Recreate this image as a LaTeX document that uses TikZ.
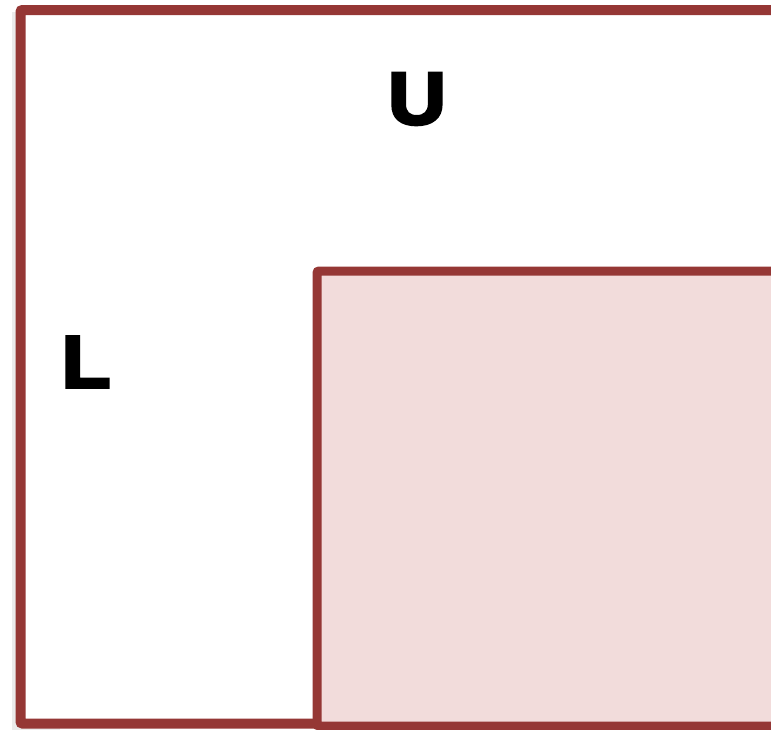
\documentclass[tikz,border=0pt]{standalone}
\usepackage{fontspec}
\usepackage{tikz}
\usetikzlibrary{positioning}
\newfontfamily\labelfont[FakeBold=4]{Liberation Sans Bold}
\definecolor{FrameRed}{RGB}{149,55,53}
\definecolor{PaleRed}{RGB}{242,220,219}
\tikzset{
	frame/.style={line width=10pt, FrameRed, rounded corners=2pt},
	region/.style={font=\labelfont\fontsize{74}{74}\selectfont, inner sep=0pt, xscale=1.08}
}
\begin{document}
\begin{tikzpicture}[x=1pt, y=-1pt]
	\useasboundingbox (0,0) rectangle (771,729);
	% shadow of the outer frame
	\draw[line width=9pt, black!8] (16,12) -- (16,725) -- (60,725);
	% outer set
	\draw[frame] (820,10) -- (20.5,10) -- (20.5,723.5) -- (820,723.5);
	% inner set
	\draw[frame, line width=9pt, fill=PaleRed] (820,271) -- (317,271) -- (317,726) -- (820,726);
	\node[region] (U) at (417,99) {U};
	\node[region] (L) at (86,362) {L};
\end{tikzpicture}
\end{document}
